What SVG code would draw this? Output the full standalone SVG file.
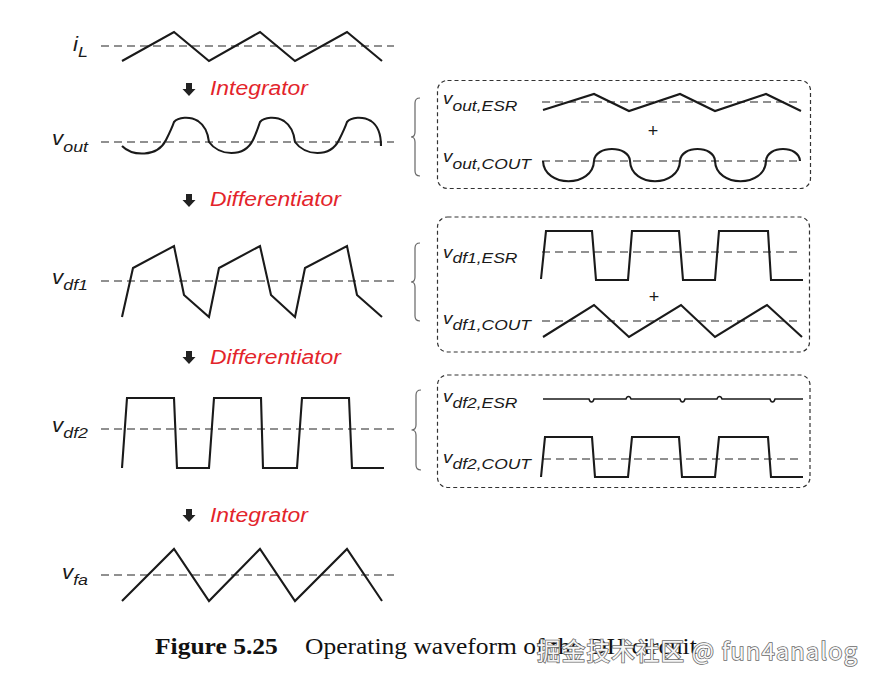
<svg xmlns="http://www.w3.org/2000/svg" width="878" height="686" viewBox="0 0 878 686">
<style>
.w{fill:none;stroke:#1a1a1a;stroke-width:2.1;stroke-linejoin:miter}
.thin{fill:none;stroke:#1a1a1a;stroke-width:1.5}
.d{fill:none;stroke:#222;stroke-width:1.2;stroke-dasharray:8 5}
.box{fill:none;stroke:#333;stroke-width:1.2;stroke-dasharray:4 3}
.br{fill:none;stroke:#666;stroke-width:1.2}
.lab{font-family:"Liberation Sans",Arial,sans-serif;font-style:italic;fill:#1a1a1a}
.lv{font-size:19.5px}
.ls{font-size:15.5px}
.rv{font-size:16px}
.rs{font-size:14.8px}
.red{font-family:"Liberation Sans",Arial,sans-serif;font-style:italic;font-size:21px;fill:#e3242b}
.plus{font-family:"Liberation Sans",Arial,sans-serif;font-size:18px;fill:#1a1a1a;text-anchor:middle}
.arr{fill:#222}
.cap{font-family:"Liberation Serif","Times New Roman",serif;font-size:23px;fill:#111}
.wm{font-family:"Noto Sans CJK SC","Noto Sans",sans-serif;font-size:23.5px;fill:#f6f6f6;stroke:#6a6a6a;stroke-width:1.6;paint-order:stroke}
</style>
<defs>
<polygon id="darr" points="186,0 192,0 192,6 195.5,6 189,13 182.5,6 186,6"/>
</defs>

<g id="iL">
<path class="d" d="M101,46 H394"/>
<path class="w" d="M122,61 L174,32 L209,61 L260,32 L295,61 L347,32 L382,61"/>
<text class="lab" text-anchor="end" transform="translate(88,51) scale(1.15,1)"><tspan class="lv">i</tspan><tspan class="ls" dy="5.5">L</tspan></text>
</g>

<g id="step1">
<use href="#darr" class="arr" y="83"/>
<text class="red" transform="translate(210,95) scale(1.09,1)">Integrator</text>
</g>

<g id="vout">
<path class="d" d="M101,142 H394"/>
<path class="w" d="M122,146 C132,156 157,158 166,140 C169,134 172,128 174,122 C178,117 190,116 198,121 C204,125 208,133 209,142 C219,156 244,158 253,140 C256,134 258,128 260,122 C264,117 276,116 284,121 C290,125 294,133 295,142 C305,156 330,158 339,140 C342,134 345,128 347,122 C351,117 363,116 371,121 C377,125 381,134 381,146"/>
<text class="lab" text-anchor="end" transform="translate(88,145) scale(1.15,1)"><tspan class="lv">v</tspan><tspan class="ls" dy="6.5">out</tspan></text>
</g>

<g id="vout-decomp">
<path class="br" d="M420,98 Q415,98 415,103 L415,132 Q415,137 411,137 Q415,137 415,142 L415,171 Q415,176 420,176"/>
<rect class="box" x="437.5" y="80.5" width="373" height="108" rx="10"/>
<path class="d" d="M542,102 H800"/>
<path class="w" d="M543,110 L594,94 L629,111 L680,94 L715,111 L766,94 L801,111"/>
<text class="plus" x="653" y="137">+</text>
<path class="d" d="M542,161 H800"/>
<path class="w" d="M543,161 C544,188 593,188 594,161 C595,145 629,145 630,161 C631,188 679,188 680,161 C681,145 714,145 715,161 C716,188 765,188 766,161 C767,145 799,145 800,161"/>
<text class="lab" transform="translate(443,103.5) scale(1.18,1)"><tspan class="rv">v</tspan><tspan class="rs" dy="7">out,ESR</tspan></text>
<text class="lab" transform="translate(443,162) scale(1.18,1)"><tspan class="rv">v</tspan><tspan class="rs" dy="6.5">out,COUT</tspan></text>
</g>

<g id="step2">
<use href="#darr" class="arr" y="194"/>
<text class="red" transform="translate(210,206) scale(1.09,1)">Differentiator</text>
</g>

<g id="vdf1">
<path class="d" d="M101,281 H394"/>
<path class="w" d="M122,317 L133,268 L174,246 L184,295 L209,317 L219,268 L260,246 L271,295 L295,317 L305,268 L347,246 L357,295 L382,317"/>
<text class="lab" text-anchor="end" transform="translate(88,283.5) scale(1.15,1)"><tspan class="lv">v</tspan><tspan class="ls" dy="6.5">df1</tspan></text>
</g>

<g id="vdf1-decomp">
<path class="br" d="M420,243 Q415,243 415,248 L415,277 Q415,282 411,282 Q415,282 415,287 L415,316 Q415,321 420,321"/>
<rect class="box" x="437.5" y="217" width="372" height="135" rx="10"/>
<path class="d" d="M542,252 H800"/>
<path class="w" d="M541,279 L546,231 L592,231 L596,280 L628,280 L632,231 L679,231 L683,280 L715,280 L719,231 L768,231 L771,280 L803,280"/>
<text class="plus" x="654" y="303">+</text>
<path class="d" d="M542,321 H800"/>
<path class="w" d="M543,337 L594,305 L629,337 L681,305 L715,337 L767,305 L802,337"/>
<text class="lab" transform="translate(443,257.5) scale(1.18,1)"><tspan class="rv">v</tspan><tspan class="rs" dy="5.5">df1,ESR</tspan></text>
<text class="lab" transform="translate(443,324) scale(1.18,1)"><tspan class="rv">v</tspan><tspan class="rs" dy="5.5">df1,COUT</tspan></text>
</g>

<g id="step3">
<use href="#darr" class="arr" y="351"/>
<text class="red" transform="translate(210,364) scale(1.09,1)">Differentiator</text>
</g>

<g id="vdf2">
<path class="d" d="M101,429 H394"/>
<path class="w" d="M122,468 L127,398 L174,398 L177,468 L209,468 L214,398 L261,398 L263,468 L297,468 L302,398 L349,398 L352,468 L384,468"/>
<text class="lab" text-anchor="end" transform="translate(88,431.5) scale(1.15,1)"><tspan class="lv">v</tspan><tspan class="ls" dy="6.5">df2</tspan></text>
</g>

<g id="vdf2-decomp">
<path class="br" d="M421,390 Q416,390 416,395 L416,425 Q416,430 411.5,430 Q416,430 416,435 L416,465 Q416,470 421,470"/>
<rect class="box" x="437.5" y="375" width="372.5" height="112.5" rx="10"/>
<path class="thin" d="M543,399 H589 C590,403 593,403 594,399 H626 C627,395.5 630,395.5 631,399 H680 C681,403 684,403 685,399 H717 C718,395.5 721,395.5 722,399 H770 C771,403 774,403 775,399 H803"/>
<path class="d" d="M543,459 H800"/>
<path class="w" d="M541,477 L545,437 L592,437 L595,477 L628,477 L632,437 L679,437 L682,477 L715,477 L719,437 L768,437 L771,477 L803,477"/>
<text class="lab" transform="translate(443,401.5) scale(1.18,1)"><tspan class="rv">v</tspan><tspan class="rs" dy="6">df2,ESR</tspan></text>
<text class="lab" transform="translate(443,462.5) scale(1.18,1)"><tspan class="rv">v</tspan><tspan class="rs" dy="6">df2,COUT</tspan></text>
</g>

<g id="step4">
<use href="#darr" class="arr" y="509"/>
<text class="red" transform="translate(210,522) scale(1.09,1)">Integrator</text>
</g>

<g id="vfa">
<path class="d" d="M101,575 H394"/>
<path class="w" d="M122,601 L174,549 L209,601 L260,549 L295,601 L347,549 L382,601"/>
<text class="lab" text-anchor="end" transform="translate(88,579) scale(1.15,1)"><tspan class="lv">v</tspan><tspan class="ls" dy="5.5">fa</tspan></text>
</g>

<g id="caption">
<text class="cap" transform="translate(155,654) scale(1.11,1)"><tspan font-weight="bold">Figure 5.25</tspan></text>
<text class="cap" transform="translate(305,654) scale(1.11,1)">Operating waveform of the DH circuit</text>
<text class="wm" x="537" y="660" textLength="320" lengthAdjust="spacing">掘金技术社区 @ fun4analog</text>
</g>
</svg>
